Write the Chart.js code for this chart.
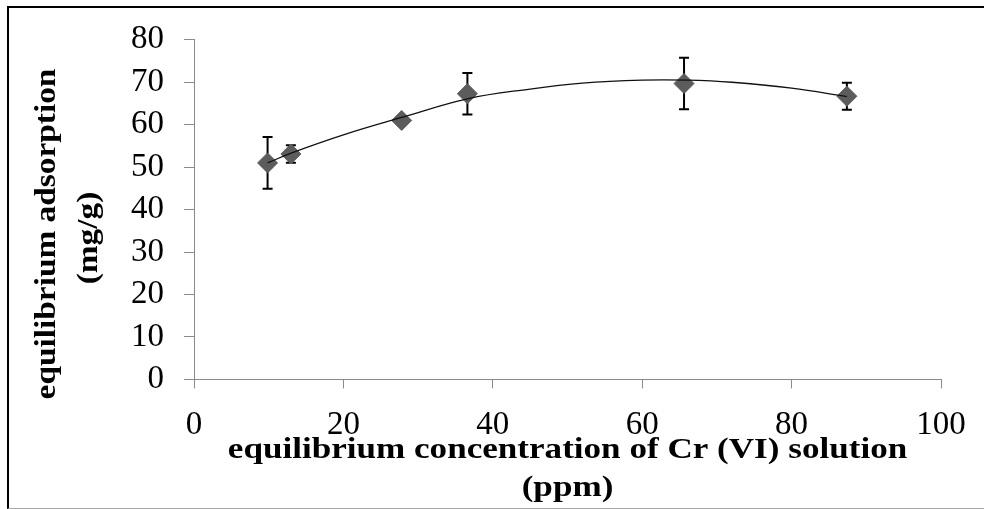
<!DOCTYPE html>
<html>
<head>
<meta charset="utf-8">
<script src="https://cdn.jsdelivr.net/npm/chart.js@4.4.1/dist/chart.umd.min.js"></script>
<style>
  html, body { margin: 0; padding: 0; background: #fff; overflow: hidden; }
  #wrap { position: relative; width: 984px; height: 509px; }
  #chart { position: absolute; left: 0; top: 0; }
  #frame {
    position: absolute; left: 7px; top: 6px; width: 980px; height: 500px;
    border-top: 2px solid #000; border-left: 2px solid #000; border-bottom: 1px solid #a6a6a6;
    pointer-events: none;
  }
</style>
</head>
<body>
<div id="wrap">
  <canvas id="chart" width="984" height="509"></canvas>
  <div id="frame"></div>
</div>
<script>
// measured points (Cr(VI) equilibrium concentration vs adsorption)
const concPpm = [9.85, 12.97, 27.8, 36.6, 65.6, 87.4];
const adsorption = [51.0, 53.1, 61.0, 67.3, 69.7, 66.7];
const adsorptionErr = [6.1, 2.05, 0.6, 4.9, 6.05, 3.2];

// trend curve
const trendX = [9.85, 13, 20, 27.8, 36.6, 45, 52, 60, 66, 72, 80, 87.4];
const trendY = [51.0, 53.3, 57.6, 61.7, 66.1, 68.4, 69.8, 70.5, 70.5, 70.0, 68.6, 66.6];

// axis setup
const xTicks = [0, 20, 40, 60, 80, 100];
const yTicks = [0, 10, 20, 30, 40, 50, 60, 70, 80];
const xTitleLines = ["equilibrium concentration of Cr (VI) solution", "(ppm)"];
const yTitleLines = ["equilibrium adsorption", "(mg/g)"];

const axisGray = "#8a8a8a";
const tickFont = { family: "'Liberation Serif', 'Times New Roman', serif", size: 33 };

// error bars, drawn behind the markers
const errorBars = {
  id: "errorBars",
  beforeDatasetsDraw(chart) {
    const { ctx, scales } = chart;
    ctx.save();
    ctx.strokeStyle = "#000";
    ctx.lineWidth = 2;
    concPpm.forEach((xv, i) => {
      const px = scales.x.getPixelForValue(xv);
      const top = scales.y.getPixelForValue(adsorption[i] + adsorptionErr[i]);
      const bot = scales.y.getPixelForValue(adsorption[i] - adsorptionErr[i]);
      ctx.beginPath();
      ctx.moveTo(px, top); ctx.lineTo(px, bot);
      ctx.moveTo(px - 5, top); ctx.lineTo(px + 5, top);
      ctx.moveTo(px - 5, bot); ctx.lineTo(px + 5, bot);
      ctx.stroke();
    });
    ctx.restore();
  },
};

// bold titles, slightly wide like the original
const axisTitles = {
  id: "axisTitles",
  afterDraw(chart) {
    const { ctx, chartArea } = chart;
    const cx = (chartArea.left + chartArea.right) / 2;
    ctx.save();
    ctx.fillStyle = "#000";
    ctx.font = "bold 29px 'Liberation Serif', 'Times New Roman', serif";
    ctx.textAlign = "center";
    ctx.textBaseline = "alphabetic";
    [458, 496].forEach((by, i) => {
      ctx.save();
      ctx.translate(cx, by);
      ctx.scale(1.21, 1);
      ctx.fillText(xTitleLines[i], 0, 0);
      ctx.restore();
    });
    [[55, 234], [97, 238]].forEach(([bx, cy], i) => {
      ctx.save();
      ctx.translate(bx, cy);
      ctx.rotate(-Math.PI / 2);
      ctx.scale(1.15, 1);
      ctx.fillText(yTitleLines[i], 0, 0);
      ctx.restore();
    });
    ctx.restore();
  },
};

new Chart(document.getElementById("chart"), {
  type: "scatter",
  data: {
    datasets: [
      {
        label: "trend",
        data: trendX.map((x, i) => ({ x: x, y: trendY[i] })),
        showLine: true,
        borderColor: "#111",
        borderWidth: 1.3,
        pointRadius: 0,
        tension: 0.4,
        order: 0,
      },
      {
        label: "adsorption",
        data: concPpm.map((x, i) => ({ x: x, y: adsorption[i] })),
        pointStyle: "rectRot",
        pointRadius: 10,
        backgroundColor: "#5c5c5c",
        borderColor: "#5c5c5c",
        borderWidth: 1,
        order: 1,
      },
    ],
  },
  options: {
    responsive: false,
    animation: false,
    layout: { padding: { left: 111, right: 43, top: 39, bottom: 47 } },
    plugins: { legend: { display: false }, tooltip: { enabled: false } },
    scales: {
      x: {
        type: "linear",
        min: 0,
        max: 100,
        afterBuildTicks: (s) => { s.ticks = xTicks.map((v) => ({ value: v })); },
        ticks: { font: tickFont, color: "#000", padding: 17, autoSkip: false, maxRotation: 0 },
        grid: { drawOnChartArea: false, drawTicks: true, tickLength: 9, color: axisGray },
        border: { color: axisGray, width: 1 },
      },
      y: {
        min: 0,
        max: 80,
        afterBuildTicks: (s) => { s.ticks = yTicks.map((v) => ({ value: v })); },
        ticks: { font: tickFont, color: "#000", padding: 20, autoSkip: false },
        grid: { drawOnChartArea: false, drawTicks: true, tickLength: 10, color: axisGray },
        border: { color: axisGray, width: 1 },
      },
    },
  },
  plugins: [errorBars, axisTitles],
});
</script>
</body>
</html>
